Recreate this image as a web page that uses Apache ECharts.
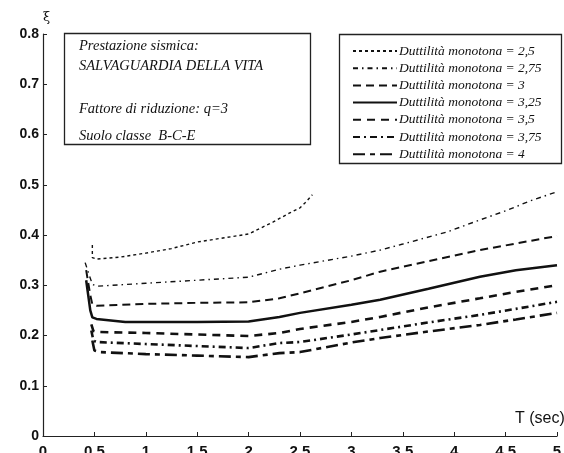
<!DOCTYPE html>
<html>
<head>
<meta charset="utf-8">
<script src="https://cdn.jsdelivr.net/npm/echarts@6/dist/echarts.min.js"></script>
<style>
  html, body { margin: 0; padding: 0; background: #fff; }
  #chart { width: 564px; height: 453px; }
</style>
</head>
<body>
<div id="chart"></div>
<script>
// Periodo T (sec) e fattore di smorzamento ξ per ciascuna duttilità monotona
const seriesNames = [
  'Duttilità monotona = 2,5',
  'Duttilità monotona = 2,75',
  'Duttilità monotona = 3',
  'Duttilità monotona = 3,25',
  'Duttilità monotona = 3,5',
  'Duttilità monotona = 3,75',
  'Duttilità monotona = 4'
];

const duct250 = [[0.48, 0.38], [0.48, 0.355], [0.52, 0.352], [0.75, 0.356], [1.0, 0.364], [1.25, 0.373],
  [1.5, 0.386], [1.75, 0.394], [2.0, 0.402], [2.24, 0.426], [2.4, 0.444], [2.5, 0.454], [2.55, 0.464], [2.62, 0.48]];
const duct275 = [[0.41, 0.345], [0.45, 0.32], [0.48, 0.302], [0.52, 0.298], [1.0, 0.304], [1.5, 0.31],
  [2.0, 0.316], [2.3, 0.332], [2.5, 0.34], [3.0, 0.358], [3.28, 0.37], [3.5, 0.382], [3.93, 0.406],
  [4.25, 0.43], [4.5, 0.448], [4.74, 0.468], [5.0, 0.486]];
const duct300 = [[0.42, 0.33], [0.46, 0.28], [0.48, 0.262], [0.52, 0.259], [1.0, 0.263], [1.5, 0.265],
  [2.0, 0.266], [2.3, 0.274], [2.5, 0.284], [3.0, 0.31], [3.28, 0.327], [3.75, 0.348], [4.25, 0.37],
  [4.6, 0.383], [5.0, 0.398]];
const duct325 = [[0.42, 0.31], [0.46, 0.25], [0.48, 0.236], [0.52, 0.233], [0.8, 0.227], [1.0, 0.227],
  [1.5, 0.227], [2.0, 0.228], [2.3, 0.237], [2.5, 0.245], [3.0, 0.261], [3.28, 0.271], [3.75, 0.293],
  [4.25, 0.317], [4.6, 0.33], [5.0, 0.34]];
const duct350 = [[0.47, 0.222], [0.49, 0.209], [0.52, 0.207], [1.0, 0.205], [1.5, 0.202], [2.0, 0.199],
  [2.3, 0.205], [2.5, 0.213], [3.0, 0.227], [3.28, 0.237], [3.75, 0.256], [4.25, 0.274], [4.6, 0.287], [5.0, 0.30]];
const duct375 = [[0.47, 0.21], [0.49, 0.19], [0.52, 0.187], [1.0, 0.183], [1.5, 0.179], [2.0, 0.175],
  [2.3, 0.185], [2.5, 0.187], [3.0, 0.202], [3.28, 0.211], [3.75, 0.226], [4.25, 0.241], [4.6, 0.253], [5.0, 0.267]];
const duct400 = [[0.48, 0.19], [0.5, 0.17], [0.55, 0.167], [1.0, 0.163], [1.5, 0.16], [2.0, 0.157],
  [2.3, 0.165], [2.5, 0.167], [3.0, 0.186], [3.28, 0.195], [3.75, 0.208], [4.25, 0.221], [4.6, 0.232], [5.0, 0.245]];

const seriesData = [duct250, duct275, duct300, duct325, duct350, duct375, duct400];

const xTicks = { min: 0, max: 5, interval: 0.5 };
const yTicks = { min: 0, max: 0.8, interval: 0.1 };

const noteLines = [
  'Prestazione sismica:',
  'SALVAGUARDIA DELLA VITA',
  'Fattore di riduzione: q=3',
  'Suolo classe  B-C-E'
];
const noteTops = [39, 59, 102, 129];

const lineStyles = [
  { width: 1.4, type: [3, 3] },
  { width: 1.4, type: [5, 4, 1.5, 4] },
  { width: 2, type: [8, 5] },
  { width: 2.5, type: 'solid' },
  { width: 2.6, type: [8, 6] },
  { width: 2.6, type: [7, 4, 2, 4] },
  { width: 2.6, type: [12, 5, 5, 5] }
];

const chart = echarts.init(document.getElementById('chart'), null, { renderer: 'canvas' });

const serifItalic = { fontFamily: 'Liberation Serif', fontStyle: 'italic' };

const noteGraphics = noteLines.map((t, i) => ({
  type: 'text', left: 79, top: noteTops[i], z: 10,
  style: Object.assign({ text: t, fontSize: 14.5, fill: '#111' }, serifItalic)
}));

chart.setOption({
  animation: false,
  backgroundColor: '#fff',
  grid: { left: 43, right: 7, top: 34, bottom: 17, containLabel: false, outerBoundsMode: 'none' },
  xAxis: {
    type: 'value', min: xTicks.min, max: xTicks.max, interval: xTicks.interval,
    axisLine: { lineStyle: { color: '#222', width: 1.2 } },
    axisTick: { inside: true, length: 4, lineStyle: { color: '#222' } },
    axisLabel: { color: '#111', fontFamily: 'Liberation Sans', fontSize: 15, fontWeight: 'bold', margin: 8,
      formatter: v => String(v) },
    splitLine: { show: false }
  },
  yAxis: {
    type: 'value', min: yTicks.min, max: yTicks.max, interval: yTicks.interval,
    name: 'ξ', nameLocation: 'end', nameGap: 10,
    nameTextStyle: { color: '#111', fontFamily: 'DejaVu Serif', fontSize: 13, align: 'left', padding: [0, 0, 0, 0] },
    axisLine: { lineStyle: { color: '#222', width: 1.2 } },
    axisTick: { inside: true, length: 4, lineStyle: { color: '#222' } },
    axisLabel: { color: '#111', fontFamily: 'Liberation Sans', fontSize: 14, fontWeight: 'bold', margin: 4,
      formatter: v => String(Math.round(v * 10) / 10) },
    splitLine: { show: false }
  },
  legend: {
    orient: 'vertical', left: 347, top: 39, itemGap: 3.2,
    itemWidth: 44, itemHeight: 13,
    itemStyle: { opacity: 0 },
    textStyle: Object.assign({ fontSize: 13.5, color: '#111', padding: [0, 0, 0, -3] }, serifItalic),
    data: seriesNames
  },
  series: seriesNames.map((name, i) => ({
    name, type: 'line', data: seriesData[i], symbol: 'none', smooth: false,
    lineStyle: Object.assign({ color: '#111' }, lineStyles[i]),
    itemStyle: { color: '#111' }
  })),
  graphic: [
    { type: 'rect', shape: { x: 64.5, y: 33.5, width: 246, height: 111 },
      style: { fill: 'none', stroke: '#222', lineWidth: 1.3 }, z: 10 },
    { type: 'rect', shape: { x: 339.5, y: 34.5, width: 222, height: 129 },
      style: { fill: 'none', stroke: '#222', lineWidth: 1.3 }, z: 10 },
    ...noteGraphics,
    { type: 'text', x: 515, y: 411, z: 10,
      style: { text: 'T (sec)', fontFamily: 'Liberation Sans', fontSize: 16, fill: '#111' } }
  ]
});
</script>
</body>
</html>
